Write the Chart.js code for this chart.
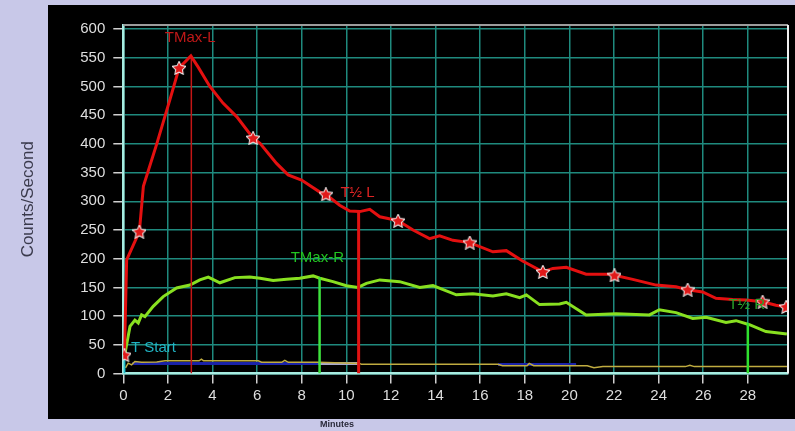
<!DOCTYPE html>
<html>
<head>
<meta charset="utf-8">
<script src="https://cdn.jsdelivr.net/npm/chart.js@4/dist/chart.umd.min.js"></script>
<style>
  html, body { margin: 0; padding: 0; background: #c8c8e8; }
  #wrap { width: 795px; height: 431px; }
</style>
</head>
<body>
<div id="wrap"><canvas id="c" width="795" height="431"></canvas></div>
<script>
// Left (red) time-activity curve, minutes vs counts/second
const redX = [0.05, 0.15, 0.72, 0.9, 1.5, 2.09, 2.5, 3.03, 3.35, 3.88, 4.47, 5.09, 5.82, 6.13, 6.87, 7.39, 7.99, 8.81, 9.08, 9.7, 10.15, 10.6, 11.05, 11.5, 11.87, 12.32, 12.99, 13.73, 14.18, 14.78, 15.53, 16.57, 17.17, 17.9, 18.81, 19.26, 19.86, 20.75, 21.8, 22.02, 22.84, 23.89, 24.78, 25.3, 25.97, 26.57, 27.32, 27.92, 28.66, 29.26, 29.72];
const redY = [32, 198, 247, 326, 400, 477, 532, 553, 534, 500, 471, 447, 410, 401, 366, 346, 337, 316, 312, 293, 283, 282, 286, 273, 270, 266, 250, 235, 240, 232, 228, 212, 214, 196, 177, 183, 185, 173, 173, 171, 164, 154, 151, 146, 142, 131, 129, 128, 125, 119, 116];

// Sample points marked with stars on the left curve
const starX = [0.05, 0.72, 2.5, 5.82, 9.08, 12.32, 15.53, 18.81, 22.02, 25.3, 28.66, 29.72];
const starY = [32, 247, 532, 410, 312, 266, 228, 177, 171, 146, 125, 116];

// Right (green) time-activity curve
const greenX = [0.08, 0.3, 0.52, 0.67, 0.82, 0.97, 1.34, 1.79, 2.39, 2.99, 3.43, 3.81, 4.33, 5.0, 5.67, 6.13, 6.72, 7.32, 7.91, 8.51, 8.81, 9.4, 10.0, 10.52, 10.9, 11.5, 12.39, 13.29, 13.88, 14.93, 15.67, 16.57, 17.17, 17.77, 18.07, 18.66, 19.56, 19.86, 20.75, 22.09, 23.59, 24.03, 24.78, 25.53, 26.13, 27.02, 27.47, 28.07, 28.81, 29.75];
const greenY = [36, 82, 93, 88, 102, 99, 117, 134, 149, 154, 163, 168, 158, 167, 168, 166, 162, 164, 166, 170, 166, 160, 153, 150, 157, 163, 160, 150, 153, 137, 139, 135, 139, 132, 137, 120, 121, 124, 102, 104, 102, 111, 106, 96, 98, 89, 92, 85, 73, 69];

// Background curves near the baseline
const yellowX = [0.1, 0.22, 0.37, 0.52, 0.82, 1.5, 1.87, 3.4, 3.5, 3.6, 6.05, 6.2, 7.1, 7.24, 7.4, 8.73, 10.6, 10.67, 16.8, 17.0, 18.1, 18.2, 18.4, 20.8, 21.1, 21.5, 25.2, 25.4, 25.6, 29.8];
const yellowY = [10, 18, 15, 21, 19.5, 20, 22, 22, 25, 22, 22, 19.5, 19.5, 23, 19.5, 19.5, 17.5, 16, 16, 13.5, 13.5, 17.5, 13.5, 13.5, 10, 12, 12, 14.5, 12, 12];
const blueX = [0.4, 8.75, 10.6, 10.62, 16.8, 20.3];
const blueY = [17.5, 17.5, 17.5, null, 15.5, 15.5];

// Event markers: name, time (min), height of the drop line, label anchor
const eventNames = ['TMax-L', 'T\u00BD L', 'TMax-R', 'T\u00BD R', 'T Start'];
const eventTimes = [3.05, 10.55, 8.8, 28.0, 0.05];
const eventTops = [553, 282, 168, 88, 23];
const eventLabelX = [3.0, 10.5, 8.7, 27.95, 1.35];
const eventLabelY = [584, 314, 201, 119, 44];

// Axis ticks
const xTicks = [0, 2, 4, 6, 8, 10, 12, 14, 16, 18, 20, 22, 24, 26, 28];
const yTicks = [0, 50, 100, 150, 200, 250, 300, 350, 400, 450, 500, 550, 600];

const eventColors = ['#c41616', '#e01212', '#3ee23e', '#2fe02f', '#22c0cc'];
const eventWidths = [1.5, 3, 2.5, 2.5, 2];
const eventTextColors = ['#c01818', '#e02424', '#22c422', '#2aa42a', '#20b4c4'];

const pts = (xs, ys) => xs.map((x, i) => ({ x: x, y: ys[i] }));

// Star marker image: red five-point star with a white rim
function makeStar(size) {
  const c = document.createElement('canvas');
  c.width = size; c.height = size;
  const g = c.getContext('2d');
  const cx = size / 2, cy = size / 2 + 0.5, ro = size / 2 - 1, ri = ro * 0.5;
  g.beginPath();
  for (let i = 0; i < 10; i++) {
    const r = i % 2 === 0 ? ro : ri;
    const a = -Math.PI / 2 + i * Math.PI / 5;
    const px = cx + r * Math.cos(a), py = cy + r * Math.sin(a);
    if (i === 0) g.moveTo(px, py); else g.lineTo(px, py);
  }
  g.closePath();
  g.lineWidth = 2;
  g.strokeStyle = '#f4f0f0';
  g.stroke();
  g.fillStyle = '#e01818';
  g.fill();
  return c;
}
const starImg = makeStar(14);

const datasets = [];
datasets.push({
  data: pts(starX, starY), showLine: false,
  pointStyle: starImg, pointRadius: 7, borderWidth: 0
});
datasets.push({
  data: pts(redX, redY), borderColor: '#e41010', borderWidth: 3,
  pointRadius: 0, tension: 0
});
eventNames.forEach((n, i) => {
  datasets.push({
    data: [{ x: eventTimes[i], y: 0 }, { x: eventTimes[i], y: eventTops[i] }],
    borderColor: eventColors[i], borderWidth: eventWidths[i], pointRadius: 0
  });
});
datasets.push({
  data: pts(greenX, greenY), borderColor: '#88e020', borderWidth: 3,
  pointRadius: 0, tension: 0
});
datasets.push({
  data: pts(yellowX, yellowY), borderColor: '#c0ac40', borderWidth: 1.5,
  pointRadius: 0, tension: 0
});
datasets.push({
  data: pts(blueX, blueY), borderColor: '#1a22a8', borderWidth: 3,
  pointRadius: 0, spanGaps: false,
  segment: { borderColor: ctx => (ctx.p0.parsed.x >= 8.7 && ctx.p0.parsed.x < 10.61) ? '#a8a8cc' : '#1a22a8' }
});

const frame = {
  id: 'frame',
  beforeDraw(chart) {
    const g = chart.ctx;
    g.save();
    g.fillStyle = '#c8c8e8';
    g.fillRect(0, 0, chart.width, chart.height);
    g.fillStyle = '#000000';
    g.fillRect(48, 5, chart.width - 48, 414);
    g.restore();
  },
  afterDraw(chart) {
    const a = chart.chartArea, g = chart.ctx;
    g.save();
    g.lineWidth = 2;
    g.strokeStyle = '#9c9c9c';
    g.beginPath(); g.moveTo(a.left, a.top); g.lineTo(a.right, a.top); g.stroke();
    g.strokeStyle = '#f0f0f0';
    g.beginPath(); g.moveTo(a.right, a.top); g.lineTo(a.right, a.bottom); g.stroke();
    g.fillStyle = '#2a2a3a';
    g.font = 'bold 9px "Liberation Sans", Arial, sans-serif';
    g.textAlign = 'center';
    g.textBaseline = 'middle';
    g.fillText('Minutes', 337, 425);
    g.restore();
  },
  afterDatasetsDraw(chart) {
    const g = chart.ctx, sx = chart.scales.x, sy = chart.scales.y;
    g.save();
    g.font = '15px "Liberation Sans", Arial, sans-serif';
    g.textAlign = 'center';
    g.textBaseline = 'middle';
    eventNames.forEach((n, i) => {
      g.fillStyle = eventTextColors[i];
      g.fillText(n, sx.getPixelForValue(eventLabelX[i]), sy.getPixelForValue(eventLabelY[i]));
    });
    g.restore();
  }
};

new Chart(document.getElementById('c'), {
  type: 'line',
  data: { datasets: datasets },
  options: {
    responsive: false,
    animation: false,
    devicePixelRatio: 1,
    layout: { padding: { left: 0, top: 25, right: 6.7, bottom: 0 } },
    plugins: { legend: { display: false }, tooltip: { enabled: false } },
    scales: {
      x: {
        type: 'linear', min: 0, max: 29.8,
        afterBuildTicks: s => { s.ticks = xTicks.map(v => ({ value: v })); },
        afterFit: s => { s.height = 57.5; },
        ticks: { color: '#dedede', font: { family: '"Liberation Sans", Arial, sans-serif', size: 15 }, padding: 3, maxRotation: 0, autoSkip: false },
        grid: { color: '#1f8a7e', lineWidth: 1.5, tickColor: '#d0d0d0', tickLength: 10 },
        border: { color: '#a8ece2', width: 2.5 }
      },
      y: {
        type: 'linear', min: 0, max: 607,
        afterBuildTicks: s => { s.ticks = yTicks.map(v => ({ value: v })); },
        afterFit: s => { s.width = 123.3; },
        ticks: { color: '#dedede', font: { family: '"Liberation Sans", Arial, sans-serif', size: 15 }, padding: 8, autoSkip: false },
        grid: { color: '#1f8a7e', lineWidth: 1.5, tickColor: '#d0d0d0', tickLength: 10 },
        border: { color: '#a8ece2', width: 2.5 },
        title: { display: true, text: 'Counts/Second', color: '#3a3a4c', font: { family: '"Liberation Sans", Arial, sans-serif', size: 17 }, padding: { top: 18, bottom: 0 } }
      }
    }
  },
  plugins: [frame]
});
</script>
</body>
</html>
